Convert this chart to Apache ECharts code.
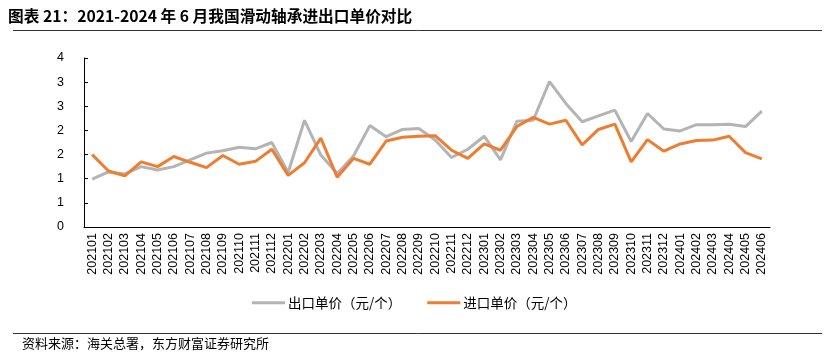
<!DOCTYPE html>
<html><head><meta charset="utf-8">
<script src="https://cdn.jsdelivr.net/npm/echarts@6/dist/echarts.min.js"></script>
<style>html,body{margin:0;padding:0;background:#fff}#c{width:834px;height:356px}</style>
</head><body><div id="c"></div>
<script>
const categories = ['202101','202102','202103','202104','202105','202106','202107','202108','202109','202110','202111','202112',
'202201','202202','202203','202204','202205','202206','202207','202208','202209','202210','202211','202212',
'202301','202302','202303','202304','202305','202306','202307','202308','202309','202310','202311','202312',
'202401','202402','202403','202404','202405','202406'];
const exportPrice = [0.99,1.14,1.10,1.25,1.18,1.25,1.39,1.53,1.58,1.65,1.62,1.75,
1.13,2.21,1.49,1.11,1.47,2.10,1.87,2.02,2.04,1.80,1.44,1.61,
1.88,1.39,2.19,2.21,3.01,2.56,2.18,2.30,2.42,1.77,2.35,2.03,
1.99,2.12,2.12,2.13,2.08,2.40];
const importPrice = [1.50,1.16,1.06,1.35,1.25,1.46,1.34,1.23,1.48,1.30,1.36,1.61,
1.07,1.33,1.84,1.03,1.42,1.30,1.78,1.86,1.88,1.89,1.59,1.42,
1.72,1.59,2.08,2.27,2.13,2.21,1.70,2.02,2.13,1.35,1.81,1.57,
1.72,1.79,1.80,1.88,1.54,1.41];
const seriesNames = ['出口单价（元/个）','进口单价（元/个）'];
const titleText = '图表 21：2021-2024 年 6 月我国滑动轴承进出口单价对比';
const sourceText = '资料来源：海关总署，东方财富证券研究所';

const chart = echarts.init(document.getElementById('c'));
const latin = 'Liberation Sans, Arial, sans-serif';
const cjk = '"Noto Sans CJK SC", sans-serif';
chart.setOption({
  animation:false,
  grid:{left:84,right:64,top:58,bottom:129},
  graphic:[
    {type:'text',left:8,top:8,style:{text:titleText,font:'bold 15.7px "Noto Sans CJK SC", sans-serif',fill:'#000'}},
    {type:'line',shape:{x1:13,y1:30.5,x2:822,y2:30.5},style:{stroke:'#333',lineWidth:1}},
    {type:'line',shape:{x1:13,y1:333.5,x2:822,y2:333.5},style:{stroke:'#333',lineWidth:1}},
    {type:'text',left:22,top:337,style:{text:sourceText,font:'13px "Noto Sans CJK SC", sans-serif',fill:'#000'}}
  ],
  legend:{
    top:291,left:247,itemWidth:33,itemHeight:3,itemGap:26,
    icon:'rect',
    textStyle:{fontFamily:cjk,fontSize:13.5,color:'#000',padding:[0,0,0,-2]},
    data:seriesNames
  },
  xAxis:{
    type:'category',data:categories,boundaryGap:true,
    axisLine:{lineStyle:{color:'#000',width:1}},
    axisTick:{inside:true,length:4,lineStyle:{color:'#000'}},
    axisLabel:{rotate:90,interval:0,fontFamily:latin,fontSize:12.5,color:'#000',margin:6}
  },
  yAxis:{
    type:'value',min:0,max:3.5,interval:0.5,
    splitLine:{show:false},
    axisLine:{show:true,lineStyle:{color:'#000',width:1}},
    axisTick:{show:true,inside:true,length:4,lineStyle:{color:'#000'}},
    axisLabel:{fontFamily:latin,fontSize:12.5,color:'#000',margin:20,formatter:v=>String(Math.round(v))}
  },
  series:[
    {name:seriesNames[0],type:'line',data:exportPrice,symbol:'none',lineStyle:{color:'#B4B4B4',width:3},itemStyle:{color:'#B4B4B4'}},
    {name:seriesNames[1],type:'line',data:importPrice,symbol:'none',lineStyle:{color:'#ED7D31',width:3},itemStyle:{color:'#ED7D31'}}
  ]
});
</script></body></html>
